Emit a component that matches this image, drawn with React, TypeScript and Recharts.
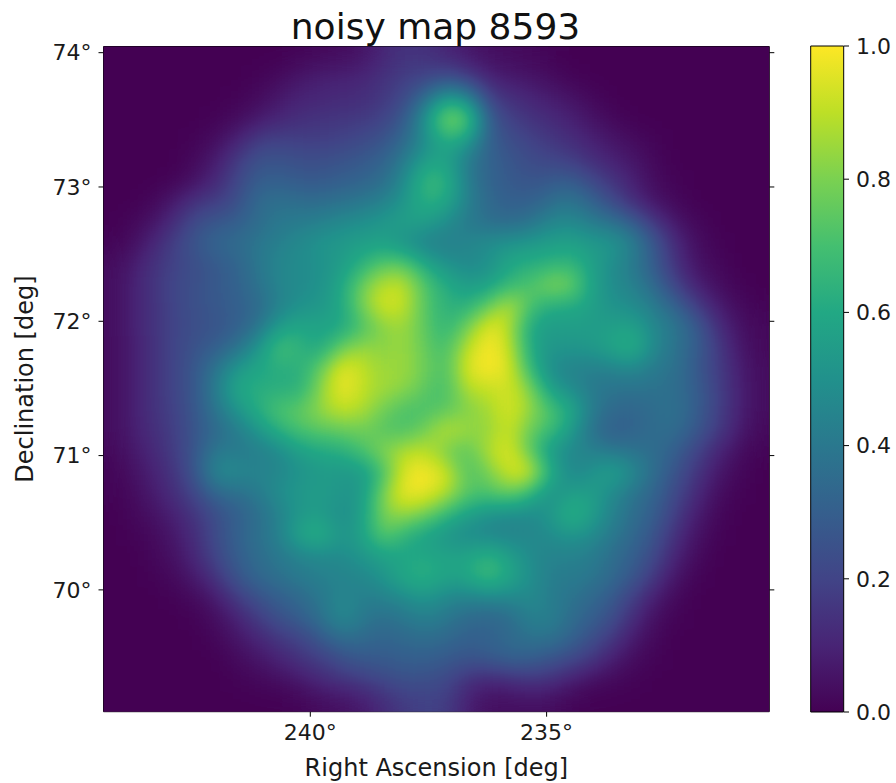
import { Bar, BarChart, Scatter, ScatterChart, XAxis, YAxis } from 'recharts'

const heatRows = [
  [0,0,0,0,0,0,0,0,0,1,2,3,5,11,15,14,10,6,4,3,2,1,0,0,0,0,0,0,0,0,0,0],
  [0,0,0,0,0,0,0,1,3,7,9,10,11,15,18,20,24,18,10,7,6,3,1,0,0,0,0,0,0,0,0,0],
  [0,0,0,0,0,0,1,3,7,10,11,12,13,16,22,36,56,48,20,14,11,8,5,2,0,0,0,0,0,0,0,0],
  [0,0,0,0,0,1,3,7,11,14,15,16,17,20,28,52,88,80,30,19,15,12,9,5,2,0,0,0,0,0,0,0],
  [0,0,0,0,1,4,10,18,20,18,18,20,22,26,34,48,62,56,30,24,20,16,13,9,6,3,1,0,0,0,0,0],
  [0,0,0,0,3,8,18,26,26,24,24,26,28,32,42,56,58,40,32,27,23,21,18,13,9,6,2,0,0,0,0,0],
  [0,0,0,1,5,12,22,30,30,28,28,30,32,36,48,70,66,42,32,28,26,28,30,22,15,9,3,1,0,0,0,0],
  [0,0,2,8,16,18,24,36,38,36,36,38,40,44,52,64,60,44,34,30,30,36,40,32,22,12,5,2,0,0,0,0],
  [0,2,6,14,24,28,30,36,40,42,44,48,50,54,58,56,48,40,36,34,38,46,48,42,38,30,16,6,2,0,0,0],
  [1,4,12,20,28,34,36,40,44,48,52,54,56,56,48,42,42,46,50,52,54,56,58,54,54,44,28,12,4,1,0,0],
  [3,8,15,20,24,28,32,40,46,48,50,54,64,76,76,60,50,46,48,60,62,64,66,56,48,40,28,14,5,2,0,0],
  [3,10,16,22,25,28,32,38,46,48,50,60,80,92,92,72,62,54,56,66,72,84,82,56,48,44,34,20,9,4,1,0],
  [3,10,15,21,25,28,30,34,44,50,52,60,82,96,92,72,64,62,76,94,72,60,60,56,50,48,42,32,18,8,3,1],
  [3,10,15,21,24,26,30,38,56,60,58,58,70,82,86,74,64,78,100,90,58,54,56,54,56,58,46,40,30,14,5,2],
  [3,9,15,21,26,30,38,52,74,64,58,80,86,82,86,76,68,92,100,94,60,52,52,54,60,66,46,38,30,18,7,2],
  [3,9,15,21,28,40,54,60,62,62,78,100,90,84,86,78,70,98,100,98,66,46,44,42,44,46,40,38,28,18,9,3],
  [3,9,15,21,28,44,62,62,62,62,84,100,90,86,84,74,68,90,90,94,84,54,48,40,38,38,38,36,30,20,10,3],
  [3,9,15,20,28,40,52,64,74,76,86,92,88,78,70,70,74,80,86,96,86,72,62,42,34,32,36,38,30,20,10,3],
  [3,9,14,19,27,34,42,52,64,72,74,76,78,72,70,80,94,86,82,94,76,70,54,36,28,32,36,36,28,18,8,2],
  [2,7,12,18,28,42,40,42,46,56,60,62,72,84,90,92,76,72,90,98,74,50,46,44,40,38,36,30,20,11,4,1],
  [1,5,10,16,28,50,48,44,46,50,54,52,52,68,98,100,96,70,78,94,100,64,44,50,60,48,36,26,16,7,2,0],
  [1,3,8,14,22,34,36,42,50,54,56,52,52,84,100,98,90,74,72,80,66,46,56,56,46,38,32,22,12,4,1,0],
  [0,2,5,10,16,24,30,36,44,52,54,46,56,82,86,80,66,56,50,46,46,52,68,56,44,36,30,18,8,2,0,0],
  [0,1,3,7,14,24,32,38,44,62,66,50,58,78,64,56,50,46,44,44,46,48,52,48,40,34,26,14,5,1,0,0],
  [0,0,2,5,12,22,30,36,40,44,46,48,52,56,58,60,58,58,66,56,48,44,44,42,36,30,22,10,3,0,0,0],
  [0,0,1,3,8,16,28,34,38,42,44,44,46,52,62,66,58,60,72,60,50,42,42,40,34,28,16,6,1,0,0,0],
  [0,0,0,1,3,8,18,26,30,34,40,46,42,44,48,52,46,44,46,46,48,42,38,34,28,18,8,2,0,0,0,0],
  [0,0,0,0,1,4,10,18,26,30,38,50,40,36,40,44,40,34,32,34,44,44,36,30,24,12,4,1,0,0,0,0],
  [0,0,0,0,0,2,6,11,16,20,28,36,34,32,34,36,34,30,32,34,38,38,32,24,16,7,2,0,0,0,0,0],
  [0,0,0,0,0,0,3,6,10,15,18,24,28,28,30,30,28,26,28,32,30,26,22,16,8,3,1,0,0,0,0,0],
  [0,0,0,0,0,0,1,2,4,7,12,15,18,22,25,24,22,14,10,12,16,14,8,4,2,1,0,0,0,0,0,0],
  [0,0,0,0,0,0,0,0,0,1,3,4,7,12,17,19,18,8,4,3,4,3,1,0,0,0,0,0,0,0,0,0],
]

const raRange = [244.376, 230.288]
const decRange = [74.046, 69.093]
const raTicks = [240, 235]
const raTopTicks = [243.21, 239.39, 235.56, 231.71]
const decTicks = [74, 73, 72, 71, 70]
const scaleTicks = [0, 0.2, 0.4, 0.6, 0.8, 1]
const viridis = ['#440154', '#482475', '#414487', '#355f8d', '#2a788e', '#21918c', '#22a884', '#44bf70', '#7ad151', '#bddf26', '#fde725']

const CHART_W = 896
const CHART_H = 783
const PLOT = { left: 103.5, top: 46.5, right: 769.3, bottom: 711.7 }
const CELL_W = (PLOT.right - PLOT.left) / 32
const CELL_H = (PLOT.bottom - PLOT.top) / 32
const FONT = "'DejaVu Sans', sans-serif"
const INK = '#1a1a1a'

const cols = heatRows[0].length
const rows = heatRows.length
const heatCells = heatRows.flatMap((row, r) =>
  row.map((value, c) => ({
    ra: raRange[0] + ((c + 0.5) / cols) * (raRange[1] - raRange[0]),
    dec: decRange[0] + ((r + 0.5) / rows) * (decRange[1] - decRange[0]),
    value,
  })),
)

// grey cells get blurred, then the filter maps grey to viridis
const channel = (i: number) =>
  [...viridis, viridis[viridis.length - 1]]
    .map((hex) => (parseInt(hex.slice(1 + i * 2, 3 + i * 2), 16) / 255).toFixed(3))
    .join(' ')

function HeatCell(props: any) {
  const grey = Math.round((props.payload.value / 100) * (10 / 11) * 255)
  return (
    <rect
      x={props.cx - CELL_W / 2 - 0.3}
      y={props.cy - CELL_H / 2 - 0.3}
      width={CELL_W + 0.6}
      height={CELL_H + 0.6}
      fill={`rgb(${grey},${grey},${grey})`}
    />
  )
}

const tickStyle = { fontSize: 22, fontFamily: FONT, fill: INK }
const lineStyle = { stroke: '#000', strokeWidth: 1 }
const degrees = (v: number) => `${v}°`
const blank = () => ''

function HeatMap() {
  return (
    <ScatterChart
      width={CHART_W}
      height={CHART_H}
      margin={{
        top: PLOT.top - 10,
        left: PLOT.left - 90,
        right: CHART_W - PLOT.right - 10,
        bottom: CHART_H - PLOT.bottom - 64,
      }}
    >
      <defs>
        <filter
          id="heatBlur"
          filterUnits="userSpaceOnUse"
          x={PLOT.left}
          y={PLOT.top}
          width={PLOT.right - PLOT.left}
          height={PLOT.bottom - PLOT.top}
          colorInterpolationFilters="sRGB"
        >
          <feGaussianBlur stdDeviation="12" />
          <feComponentTransfer>
            <feFuncR type="table" tableValues={channel(0)} />
            <feFuncG type="table" tableValues={channel(1)} />
            <feFuncB type="table" tableValues={channel(2)} />
            <feFuncA type="linear" slope="4" />
          </feComponentTransfer>
        </filter>
      </defs>
      <XAxis
        xAxisId="bottom"
        type="number"
        dataKey="ra"
        orientation="bottom"
        height={64}
        reversed
        domain={[raRange[1], raRange[0]]}
        allowDataOverflow
        ticks={raTicks}
        interval={0}
        tickSize={5}
        tickMargin={8}
        tick={tickStyle}
        tickLine={lineStyle}
        axisLine={lineStyle}
        tickFormatter={degrees}
        label={{
          value: 'Right Ascension [deg]',
          position: 'insideBottom',
          offset: 0,
          style: { fontSize: 24, fontFamily: FONT, fill: INK },
        }}
      />
      <XAxis
        xAxisId="top"
        type="number"
        orientation="top"
        height={10}
        reversed
        domain={[raRange[1], raRange[0]]}
        allowDataOverflow
        ticks={raTopTicks}
        interval={0}
        tickSize={5}
        tickLine={lineStyle}
        axisLine={lineStyle}
        tickFormatter={blank}
      />
      <YAxis
        yAxisId="left"
        type="number"
        dataKey="dec"
        width={90}
        domain={[decRange[1], decRange[0]]}
        allowDataOverflow
        ticks={decTicks}
        interval={0}
        tickSize={5}
        tickMargin={7}
        tick={tickStyle}
        tickLine={lineStyle}
        axisLine={lineStyle}
        tickFormatter={degrees}
        label={{
          value: 'Declination [deg]',
          angle: -90,
          position: 'insideLeft',
          offset: 11,
          style: { fontSize: 24, fontFamily: FONT, fill: INK, textAnchor: 'middle' },
        }}
      />
      <YAxis
        yAxisId="right"
        type="number"
        orientation="right"
        width={10}
        domain={[decRange[1], decRange[0]]}
        allowDataOverflow
        ticks={decTicks}
        interval={0}
        tickSize={5}
        tickLine={lineStyle}
        axisLine={lineStyle}
        tickFormatter={blank}
      />
      <Scatter
        className="heat-cells"
        data={heatCells}
        xAxisId="bottom"
        yAxisId="left"
        shape={HeatCell}
        isAnimationActive={false}
      />
      <text x={435.5} y={39} textAnchor="middle" fontSize={36} fontFamily={FONT} fill="#111">
        noisy map 8593
      </text>
    </ScatterChart>
  )
}

function ColorBar() {
  return (
    <BarChart
      width={116}
      height={CHART_H}
      data={[{ name: 'scale', top: 1 }]}
      barCategoryGap={0}
      margin={{ top: 46, bottom: CHART_H - 712, left: 30.7, right: 0 }}
    >
      <defs>
        <linearGradient id="viridisBar" x1="0" y1="1" x2="0" y2="0">
          {viridis.map((color, i) => (
            <stop key={color} offset={i / (viridis.length - 1)} stopColor={color} />
          ))}
        </linearGradient>
      </defs>
      <XAxis dataKey="name" hide />
      <YAxis
        orientation="right"
        type="number"
        width={52}
        domain={[0, 1]}
        ticks={scaleTicks}
        interval={0}
        tickSize={5}
        tickMargin={7}
        tick={{ ...tickStyle, textAnchor: 'start' }}
        tickLine={lineStyle}
        axisLine={false}
        tickFormatter={(v: number) => v.toFixed(1)}
      />
      <Bar dataKey="top" fill="url(#viridisBar)" stroke="#000" strokeWidth={1} isAnimationActive={false} />
    </BarChart>
  )
}

export default function App() {
  return (
    <div style={{ position: 'absolute', left: 0, top: 0, width: CHART_W, height: CHART_H, background: '#fff' }}>
      <style>{`.heat-cells { filter: url(#heatBlur); }`}</style>
      <HeatMap />
      <div style={{ position: 'absolute', left: 780, top: 0 }}>
        <ColorBar />
      </div>
    </div>
  )
}
